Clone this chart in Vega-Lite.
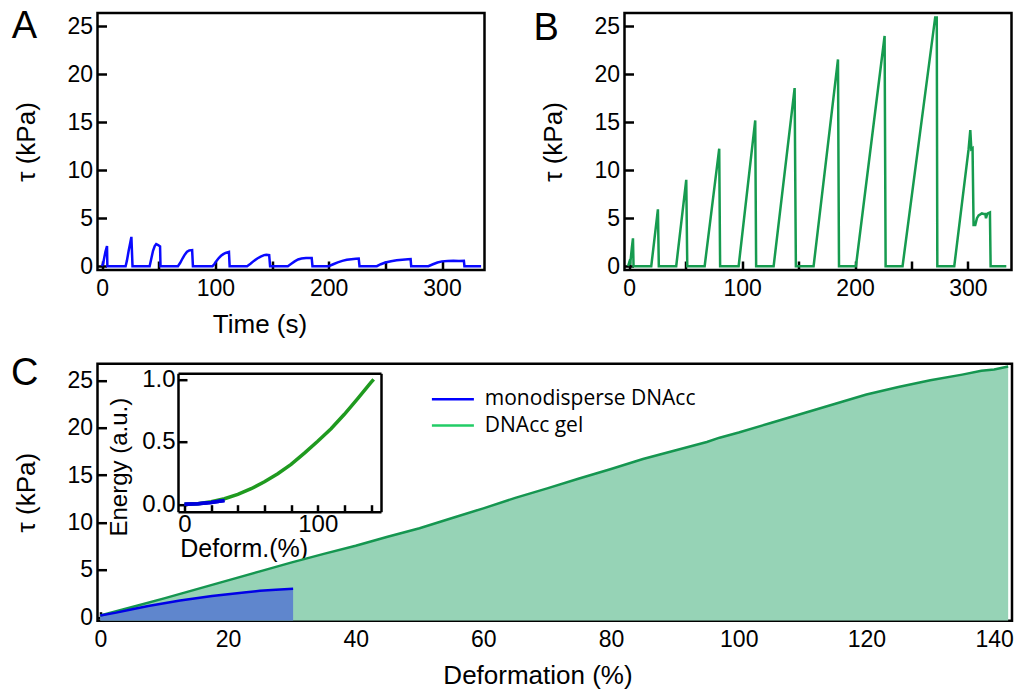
{
  "$schema": "https://vega.github.io/schema/vega-lite/v6.json",
  "background": "white",
  "padding": {"left": 9.5, "top": 6, "right": 5, "bottom": 5},
  "spacing": 14.7,
  "resolve": {"scale": {"color": "independent"}, "legend": {"color": "independent"}},
  "datasets": {
    "A": [
      {"t": 0, "tau": 0}, {"t": 1, "tau": 0.3}, {"t": 2, "tau": 0.9}, {"t": 3, "tau": 1.5}, {"t": 4.4, "tau": 2.1}, {"t": 4.7, "tau": 0},
      {"t": 20.8, "tau": 0}, {"t": 22, "tau": 0.6}, {"t": 23.5, "tau": 1.6}, {"t": 25, "tau": 2.5}, {"t": 25.9, "tau": 3.05}, {"t": 26.9, "tau": 0},
      {"t": 42, "tau": 0}, {"t": 43.5, "tau": 0.8}, {"t": 45, "tau": 1.6}, {"t": 46.5, "tau": 2.1}, {"t": 47.8, "tau": 2.3}, {"t": 49.5, "tau": 2.2}, {"t": 51.2, "tau": 2.05}, {"t": 51.6, "tau": 0},
      {"t": 67, "tau": 0}, {"t": 69, "tau": 0.35}, {"t": 71, "tau": 0.8}, {"t": 73, "tau": 1.2}, {"t": 75, "tau": 1.5}, {"t": 77, "tau": 1.65}, {"t": 79.5, "tau": 1.68}, {"t": 80.2, "tau": 0},
      {"t": 97.5, "tau": 0}, {"t": 99, "tau": 0.2}, {"t": 101, "tau": 0.55}, {"t": 103, "tau": 0.85}, {"t": 105, "tau": 1.08}, {"t": 107, "tau": 1.25}, {"t": 109, "tau": 1.38}, {"t": 112, "tau": 1.48}, {"t": 112.6, "tau": 0},
      {"t": 128, "tau": 0}, {"t": 131, "tau": 0.25}, {"t": 134, "tau": 0.55}, {"t": 137, "tau": 0.8}, {"t": 140, "tau": 1.0}, {"t": 143, "tau": 1.15}, {"t": 145, "tau": 1.2}, {"t": 147.5, "tau": 1.15}, {"t": 148.3, "tau": 0},
      {"t": 164, "tau": 0}, {"t": 167, "tau": 0.25}, {"t": 170, "tau": 0.5}, {"t": 173, "tau": 0.7}, {"t": 176, "tau": 0.8}, {"t": 180, "tau": 0.85}, {"t": 185, "tau": 0.86}, {"t": 185.7, "tau": 0},
      {"t": 200, "tau": 0}, {"t": 204, "tau": 0.2}, {"t": 208, "tau": 0.4}, {"t": 212, "tau": 0.55}, {"t": 216, "tau": 0.66}, {"t": 220, "tau": 0.73}, {"t": 224, "tau": 0.78}, {"t": 226.5, "tau": 0.8}, {"t": 227.2, "tau": 0},
      {"t": 242.5, "tau": 0}, {"t": 246, "tau": 0.2}, {"t": 250, "tau": 0.38}, {"t": 255, "tau": 0.52}, {"t": 260, "tau": 0.62}, {"t": 265, "tau": 0.68}, {"t": 270, "tau": 0.72}, {"t": 272.3, "tau": 0.73}, {"t": 272.8, "tau": 0},
      {"t": 288, "tau": 0}, {"t": 292, "tau": 0.2}, {"t": 296, "tau": 0.38}, {"t": 300, "tau": 0.5}, {"t": 305, "tau": 0.55}, {"t": 310, "tau": 0.56}, {"t": 315, "tau": 0.55}, {"t": 319.3, "tau": 0.57}, {"t": 319.8, "tau": 0},
      {"t": 334.5, "tau": 0}
    ],
    "B": [
      {"t": -1, "tau": 0}, {"t": 0.3, "tau": 0.5}, {"t": 1, "tau": 0.4}, {"t": 2.3, "tau": 1.9}, {"t": 3.3, "tau": 2.9}, {"t": 3.8, "tau": 0},
      {"t": 19.5, "tau": 0}, {"t": 25.4, "tau": 5.93}, {"t": 26.2, "tau": 0},
      {"t": 41.6, "tau": 0}, {"t": 50.5, "tau": 9.0}, {"t": 51.4, "tau": 0},
      {"t": 66.8, "tau": 0}, {"t": 79.7, "tau": 12.25}, {"t": 80.5, "tau": 0},
      {"t": 96.9, "tau": 0}, {"t": 111.6, "tau": 15.2}, {"t": 112.4, "tau": 0},
      {"t": 127.9, "tau": 0}, {"t": 146.5, "tau": 18.57}, {"t": 147.6, "tau": 0},
      {"t": 163.3, "tau": 0}, {"t": 184.9, "tau": 21.56}, {"t": 185.8, "tau": 0},
      {"t": 200.8, "tau": 0}, {"t": 226.2, "tau": 24.0}, {"t": 227.1, "tau": 0},
      {"t": 242.1, "tau": 0}, {"t": 271, "tau": 25.94}, {"t": 272.4, "tau": 25.94}, {"t": 272.9, "tau": 0},
      {"t": 287.9, "tau": 0}, {"t": 300.6, "tau": 12.2}, {"t": 302.1, "tau": 14.2}, {"t": 303, "tau": 12.2}, {"t": 304.1, "tau": 12.3}, {"t": 305, "tau": 4.3}, {"t": 306.5, "tau": 4.3}, {"t": 308, "tau": 5.0}, {"t": 309.5, "tau": 5.3}, {"t": 311, "tau": 5.4}, {"t": 312.4, "tau": 5.5}, {"t": 314, "tau": 5.45}, {"t": 315.4, "tau": 5.45}, {"t": 316, "tau": 5.0}, {"t": 317, "tau": 5.4}, {"t": 317.5, "tau": 5.5}, {"t": 319.5, "tau": 5.6}, {"t": 320.1, "tau": 0},
      {"t": 334, "tau": 0}
    ],
    "gel": [
      {"d": 0, "tau": 0.2}, {"d": 5, "tau": 1.1}, {"d": 10, "tau": 2.0}, {"d": 15, "tau": 2.95}, {"d": 20, "tau": 3.9}, {"d": 25, "tau": 4.85}, {"d": 30, "tau": 5.8}, {"d": 35, "tau": 6.7}, {"d": 40, "tau": 7.55}, {"d": 45, "tau": 8.5}, {"d": 50, "tau": 9.4}, {"d": 55, "tau": 10.45}, {"d": 60, "tau": 11.5}, {"d": 65, "tau": 12.6}, {"d": 70, "tau": 13.6}, {"d": 75, "tau": 14.65}, {"d": 80, "tau": 15.65}, {"d": 85, "tau": 16.7}, {"d": 90, "tau": 17.6}, {"d": 95, "tau": 18.5}, {"d": 97, "tau": 18.95}, {"d": 100, "tau": 19.5}, {"d": 105, "tau": 20.5}, {"d": 110, "tau": 21.5}, {"d": 115, "tau": 22.5}, {"d": 120, "tau": 23.5}, {"d": 125, "tau": 24.3}, {"d": 130, "tau": 25.0}, {"d": 135, "tau": 25.6}, {"d": 138, "tau": 26.0}, {"d": 140, "tau": 26.15}, {"d": 142.2, "tau": 26.45}
    ],
    "mono": [
      {"d": 0, "tau": 0.2}, {"d": 2.5, "tau": 0.5}, {"d": 5, "tau": 0.85}, {"d": 7.5, "tau": 1.2}, {"d": 10, "tau": 1.5}, {"d": 12.5, "tau": 1.78}, {"d": 15, "tau": 2.02}, {"d": 17.5, "tau": 2.25}, {"d": 20, "tau": 2.45}, {"d": 22.5, "tau": 2.63}, {"d": 25, "tau": 2.8}, {"d": 27.5, "tau": 2.92}, {"d": 30.2, "tau": 3.02}
    ],
    "egel": [
      {"d": 0, "E": 0}, {"d": 10, "E": 0.005}, {"d": 20, "E": 0.02}, {"d": 30, "E": 0.045}, {"d": 40, "E": 0.08}, {"d": 50, "E": 0.125}, {"d": 60, "E": 0.18}, {"d": 70, "E": 0.245}, {"d": 80, "E": 0.32}, {"d": 90, "E": 0.41}, {"d": 100, "E": 0.505}, {"d": 110, "E": 0.605}, {"d": 120, "E": 0.72}, {"d": 130, "E": 0.845}, {"d": 140, "E": 0.975}, {"d": 142, "E": 1.0}
    ],
    "emono": [
      {"d": 0, "E": 0}, {"d": 10, "E": 0.005}, {"d": 20, "E": 0.015}, {"d": 30, "E": 0.03}
    ],
    "legend": [
      {"series": "monodisperse DNAcc", "d": 0, "tau": 0},
      {"series": "DNAcc gel", "d": 0, "tau": 0}
    ]
  },
  "vconcat": [
    {
      "hconcat": [
        {
          "width": 387,
          "height": 257,
          "title": {"text": "A", "dx": -1.3, "offset": -32.8},
          "data": {"name": "A"},
          "mark": {"type": "line", "color": "#0a0aff", "strokeWidth": 2.5, "clip": true},
          "encoding": {
            "x": {"field": "t", "type": "quantitative", "scale": {"domain": [-4, 337.5], "nice": false, "zero": false},
                  "axis": {"values": [0, 50, 100, 150, 200, 250, 300], "labelExpr": "datum.value % 100 === 0 ? datum.label : ''", "title": "Time (s)", "titleX": 162, "titleY": 41}},
            "y": {"field": "tau", "type": "quantitative", "scale": {"domain": [-0.4, 26.4], "nice": false, "zero": false},
                  "axis": {"values": [0, 5, 10, 15, 20, 25], "title": "τ (kPa)", "titleX": -58.5}}
          }
        },
        {
          "width": 387,
          "height": 257,
          "title": {"text": "B", "dx": -6.5, "offset": -34.5},
          "data": {"name": "B"},
          "mark": {"type": "line", "color": "#169b4f", "strokeWidth": 2.5, "clip": true},
          "encoding": {
            "x": {"field": "t", "type": "quantitative", "scale": {"domain": [-4.2, 338.6], "nice": false, "zero": false},
                  "axis": {"values": [0, 50, 100, 150, 200, 250, 300], "labelExpr": "datum.value % 100 === 0 ? datum.label : ''", "title": null}},
            "y": {"field": "tau", "type": "quantitative", "scale": {"domain": [-0.4, 26.4], "nice": false, "zero": false},
                  "axis": {"values": [0, 5, 10, 15, 20, 25], "title": "τ (kPa)", "titleX": -58.5}}
          }
        }
      ],
      "spacing": 140,
      "bounds": "flush"
    },
    {
      "width": 914.5,
      "height": 257,
      "title": {"text": "C", "dx": -1.9, "offset": -29.4},
      "layer": [
        {
          "encoding": {
            "x": {"field": "d", "type": "quantitative", "scale": {"domain": [-0.44, 142.8], "nice": false, "zero": false},
                  "axis": {"values": [0, 20, 40, 60, 80, 100, 120, 140], "title": "Deformation (%)", "titleX": 440, "titleY": 42}},
            "y": {"field": "tau", "type": "quantitative", "scale": {"domain": [-0.35, 26.75], "nice": false, "zero": false},
                  "axis": {"values": [0, 5, 10, 15, 20, 25], "title": "τ (kPa)", "titleX": -58.5}}
          },
          "layer": [
            {"data": {"name": "gel"}, "mark": {"type": "area", "color": "#96d3b6", "clip": true}, "encoding": {"y2": {"datum": -0.35}}},
            {"data": {"name": "mono"}, "mark": {"type": "area", "color": "#5f86cd", "clip": true}, "encoding": {"y2": {"datum": -0.35}}},
            {"data": {"name": "gel"}, "mark": {"type": "line", "color": "#159650", "strokeWidth": 2.5, "clip": true}},
            {"data": {"name": "mono"}, "mark": {"type": "line", "color": "#0000e6", "strokeWidth": 2.5, "clip": true}},
            {
              "data": {"name": "legend"},
              "mark": {"type": "line", "strokeWidth": 2.5},
              "encoding": {
                "color": {"field": "series", "type": "nominal",
                          "scale": {"domain": ["monodisperse DNAcc", "DNAcc gel"], "range": ["#0000ff", "#22cc66"]},
                          "legend": {"title": null, "orient": "none", "legendX": 343.4, "legendY": 23.5, "padding": 0,
                                     "symbolType": "M-2,0L2,0", "symbolSize": 441, "symbolStrokeWidth": 2.5,
                                     "labelFont": "Open Sans", "labelFontSize": 21, "labelColor": "#000", "labelOffset": 19.9, "labelLimit": 0, "rowPadding": 4.3}}
              }
            }
          ]
        },
        {
          "encoding": {
            "x": {"field": "d", "type": "quantitative", "scale": {"domain": [-4.9, 147.5], "range": [80.5, 283.5], "nice": false, "zero": false},
                  "axis": {"orient": "bottom", "offset": -109, "values": [0, 20, 40, 60, 80, 100, 120, 140], "labelExpr": "datum.value % 100 === 0 ? datum.label : ''", "tickSize": -7, "labelPadding": 8, "labelFontSize": 24, "titleFontSize": 25, "domain": true, "domainWidth": 2.5, "domainColor": "#000", "title": "Deform.(%)", "titleX": 146.2, "titleY": 25}},
            "y": {"field": "E", "type": "quantitative", "scale": {"domain": [-0.059, 1.048], "range": [148, 9.6], "nice": false, "zero": false},
                  "axis": {"orient": "left", "offset": -80.5, "values": [0, 0.5, 1], "format": ".1f", "labelPadding": 12, "labelFontSize": 24, "titleFontSize": 24, "domain": true, "domainWidth": 2.5, "domainColor": "#000", "title": "Energy (a.u.)", "titleX": -47, "titleY": 103}}
          },
          "layer": [
            {"data": {"name": "egel"}, "mark": {"type": "line", "color": "#1f9a1f", "strokeWidth": 3.5}},
            {"data": {"name": "emono"}, "mark": {"type": "line", "color": "#0000dd", "strokeWidth": 3.5}}
          ]
        },
        {
          "data": {"name": "emono"},
          "mark": {"type": "line", "color": "#0000dd", "strokeWidth": 3.5},
          "encoding": {
            "x": {"field": "d", "type": "quantitative", "scale": {"domain": [-4.9, 147.5], "range": [80.5, 283.5], "nice": false, "zero": false},
                  "axis": {"orient": "top", "offset": -9.6, "domain": true, "domainWidth": 2.5, "domainColor": "#000", "ticks": false, "labels": false, "title": null}},
            "y": {"field": "E", "type": "quantitative", "scale": {"domain": [-0.059, 1.048], "range": [148, 9.6], "nice": false, "zero": false},
                  "axis": {"orient": "right", "offset": -631, "domain": true, "domainWidth": 2.5, "domainColor": "#000", "ticks": false, "labels": false, "title": null}}
          }
        }
      ],
      "resolve": {"scale": {"x": "independent", "y": "independent"}}
    }
  ],
  "config": {
    "font": "Liberation Sans",
    "view": {"stroke": "#000", "strokeWidth": 2.5},
    "axis": {
      "domain": false, "grid": false, "ticks": true, "tickSize": -9, "tickWidth": 2.5, "tickColor": "#000",
      "labelColor": "#000", "labelFontSize": 23, "labelFont": "Liberation Sans",
      "titleFont": "Liberation Sans", "titleFontSize": 26, "titleFontWeight": "normal", "titleColor": "#000",
      "labelFlush": false, "labelOverlap": false, "zindex": 1
    },
    "axisX": {"labelPadding": 16.5},
    "axisY": {"labelPadding": 14},
    "title": {"fontSize": 38, "fontWeight": "normal", "font": "Liberation Sans", "anchor": "start", "frame": "bounds", "color": "#000"}
  }
}
